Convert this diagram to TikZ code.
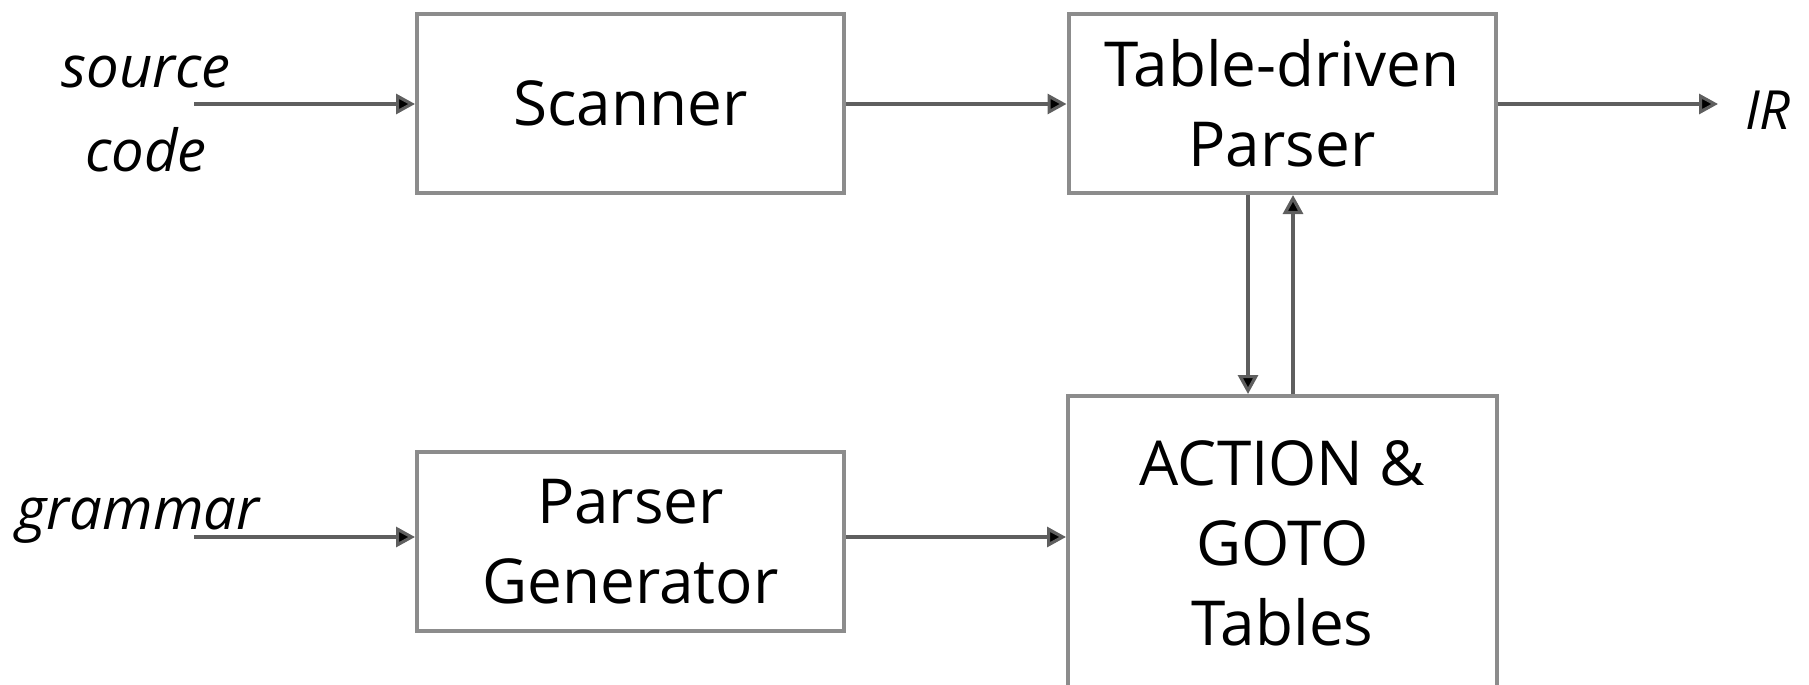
\documentclass[tikz,border=0pt]{standalone}
\usepackage{fontspec}
\setmainfont{Open Sans}
\usetikzlibrary{arrows.meta}
\definecolor{boxgray}{RGB}{140,140,140}
\definecolor{linegray}{RGB}{95,95,95}
\begin{document}
\begin{tikzpicture}[x=0.5pt,y=-0.5pt,
  blk/.style={draw=boxgray, line width=2pt, fill=white, inner sep=0pt, align=center,
    minimum width=213.5pt, font=\fontsize{31}{40}\selectfont},
  lbl/.style={inner sep=0pt, align=center, font=\fontsize{29}{42}\selectfont\itshape},
  conn/.style={draw=linegray, line width=1.6pt, -{Triangle[length=9.5pt,width=10pt,fill=black]}},
]
\useasboundingbox (0,0) rectangle (1809,685);
\node[blk, minimum height=89.5pt] (scan) at (630.5,103.5) {Scanner};
\node[blk, minimum height=89.5pt] (parser) at (1282,103.5) {Table-driven\\Parser};
\node[blk, minimum height=89.5pt] (pg) at (630.5,541.5) {Parser\\Generator};
\node[blk, minimum height=147pt, minimum width=214.5pt] (act) at (1282.5,543) {ACTION \&\\GOTO\\Tables};
\node[lbl] (src) at (146,114) {source\\code};
\node[lbl, anchor=base] (gram) at (138,529) {grammar};
\node[lbl, font=\fontsize{27}{30}\selectfont\itshape] (ir) at (1768,110) {IR};
\coordinate (sin) at (194,104);
\coordinate (gin) at (194,537);
\coordinate (out) at (1718,104);
\coordinate (dn) at (1248,300);
\coordinate (up) at (1293,300);
\draw[conn] (sin) -- (sin -| scan.west);
\draw[conn] (scan.east |- sin) -- (sin -| parser.west);
\draw[conn] (parser.east |- out) -- (out);
\draw[conn] (gin) -- (gin -| pg.west);
\draw[conn] (pg.east |- gin) -- (gin -| act.west);
\draw[conn] (parser.south -| dn) -- (act.north -| dn);
\draw[conn] (act.north -| up) -- (parser.south -| up);
\end{tikzpicture}
\end{document}
